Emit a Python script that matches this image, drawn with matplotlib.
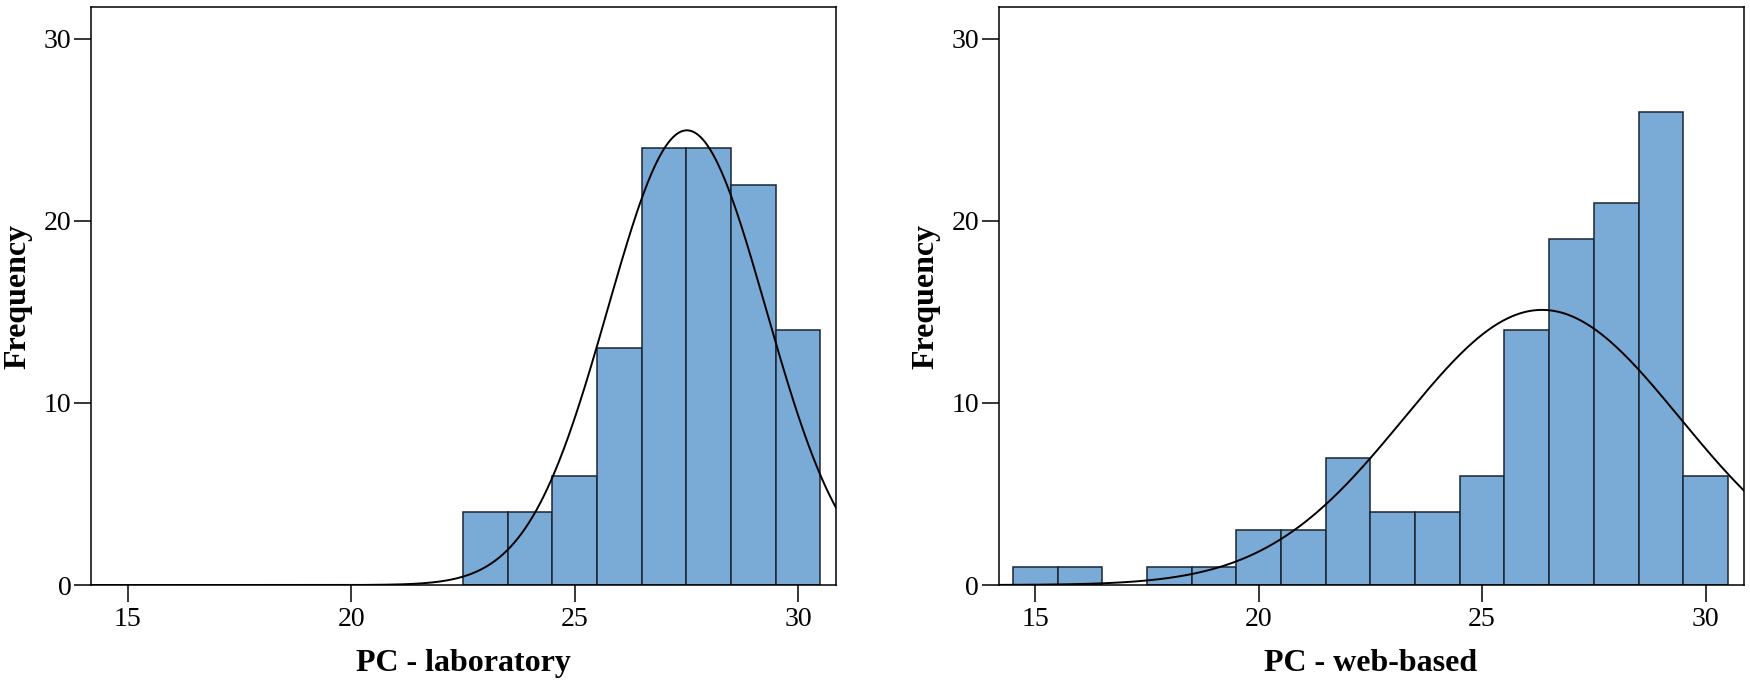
import numpy as np
import matplotlib
matplotlib.use('Agg')
import matplotlib.pyplot as plt

# score bins (bin centres) and frequencies
lab_scores = [23, 24, 25, 26, 27, 28, 29, 30]
lab_counts = [4, 4, 6, 13, 24, 24, 22, 14]

web_scores = [15, 16, 18, 19, 20, 21, 22, 23, 24, 25, 26, 27, 28, 29, 30]
web_counts = [1, 1, 1, 1, 3, 3, 7, 4, 4, 6, 14, 19, 21, 26, 6]

x_ticks = [15, 20, 25, 30]
y_ticks = [0, 10, 20, 30]
x_labels = ['PC - laboratory', 'PC - web-based']

BAR_COLOR = '#7aaad6'
EDGE_COLOR = '#1a2533'

plt.rcParams['font.family'] = ['Liberation Serif', 'DejaVu Serif']


def normal_overlay(scores, counts, xs):
    s = np.repeat(scores, counts).astype(float)
    mu, sd = s.mean(), s.std(ddof=1)
    return len(s) * np.exp(-0.5 * ((xs - mu) / sd) ** 2) / (sd * np.sqrt(2 * np.pi))


def draw_hist(ax, scores, counts, xlabel):
    ax.bar(scores, counts, width=1.0, color=BAR_COLOR, edgecolor=EDGE_COLOR,
           linewidth=1.1, zorder=2)
    xmin, xmax = 14.18, 30.85
    xs = np.linspace(xmin, xmax, 600)
    ax.plot(xs, normal_overlay(scores, counts, xs), color='black', lw=1.4, zorder=3)
    ax.set_xlim(xmin, xmax)
    ax.set_ylim(0, 31.75)
    ax.set_xticks(x_ticks)
    ax.set_yticks(y_ticks)
    ax.tick_params(direction='out', length=12, width=1.1, labelsize=20, pad=2)
    ax.tick_params(axis='x', pad=4)
    for sp in ax.spines.values():
        sp.set_linewidth(1.1)
        sp.set_color('black')
    ax.set_xlabel(xlabel, fontsize=23, fontweight='bold', labelpad=12)
    ax.set_ylabel('Frequency', fontsize=23, fontweight='bold', labelpad=8)


fig = plt.figure(figsize=(17.5, 6.84), dpi=100)
ax1 = fig.add_axes([0.052, 0.1447, 0.4257, 0.845])
ax2 = fig.add_axes([0.5706, 0.1447, 0.4257, 0.845])

draw_hist(ax1, lab_scores, lab_counts, x_labels[0])
draw_hist(ax2, web_scores, web_counts, x_labels[1])

fig.savefig('out.png', dpi=100)
